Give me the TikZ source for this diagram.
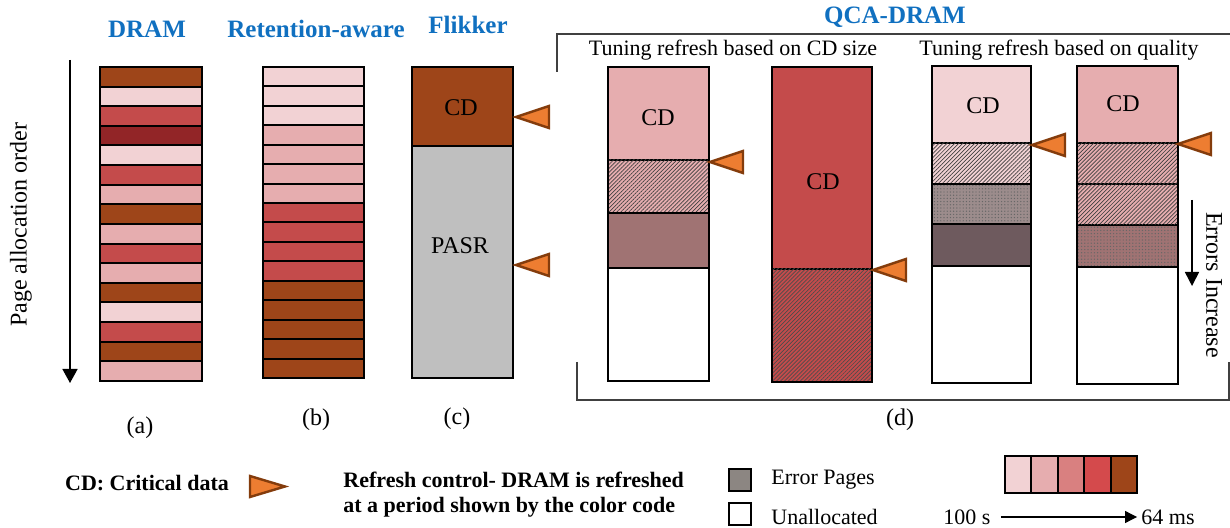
\documentclass[tikz,border=0pt]{standalone}
\usepackage{fontspec}
\setmainfont{Liberation Serif}
\usetikzlibrary{arrows.meta,patterns.meta}
\definecolor{pagebrown}{HTML}{9E4519}
\definecolor{pagelight}{HTML}{F2D2D4}
\definecolor{pagepink}{HTML}{E6ADAF}
\definecolor{pagemid}{HTML}{D98080}
\definecolor{pagered}{HTML}{C44B4B}
\definecolor{pagebright}{HTML}{D44A4C}
\definecolor{pagedark}{HTML}{922527}
\definecolor{pasrgray}{HTML}{BFBFBF}
\definecolor{errmauve}{HTML}{A07373}
\definecolor{errdark}{HTML}{6E5A5E}
\definecolor{errgray}{HTML}{9C8C8C}
\definecolor{errbox}{HTML}{8C8682}
\definecolor{headblue}{HTML}{1070C0}
\definecolor{markfill}{HTML}{ED7D31}
\definecolor{markdraw}{HTML}{843C0C}
\tikzset{
  stripe/.style={draw=black, line width=1pt},
  pagebox/.style={draw=black, line width=1.2pt},
  hatchfill/.style={postaction={pattern={Lines[angle=45,distance=1.4pt,line width=0.35pt]}, pattern color=#1}},
  hatchfill/.default=black!75,
  dotfill/.style={postaction={pattern={Dots[distance=1.6pt,radius=0.35pt]}, pattern color=#1}},
  dotfill/.default=black!60,
  refresh/.style={fill=markfill, draw=markdraw, line width=1.2pt, line join=miter},
  headline/.style={text=headblue, font=\fontsize{12.5}{15}\selectfont\bfseries},
  caption/.style={font=\fontsize{11}{13}\selectfont},
  cdtext/.style={font=\fontsize{12}{14}\selectfont},
  sublabel/.style={font=\fontsize{12}{14}\selectfont},
  legendtext/.style={font=\fontsize{11}{12.5}\selectfont, anchor=west, inner sep=0pt},
  boldtext/.style={font=\fontsize{11}{12.5}\selectfont\bfseries},
  frameline/.style={draw=black!75, line width=0.6pt},
}

\begin{document}
\begin{tikzpicture}[x=0.5pt, y=-0.5pt]
  \useasboundingbox (0, 0) rectangle (1230, 528);

  % headings
  \node[headline] (hdram) at (147, 29) {DRAM};
  \node[headline] (hret) at (316, 29) {Retention-aware};
  \node[headline] (hflik) at (468, 25) {Flikker};
  \node[headline] (hqca) at (895, 17) {QCA-DRAM};

  % allocation order
  \coordinate (ordertop) at (70, 60);
  \coordinate (orderbot) at (70, 383);
  \draw[line width=0.8pt, -{Triangle[length=7pt, width=7.5pt]}] (ordertop) -- (orderbot);
  \node[sublabel, rotate=90] (order) at (21, 225) {Page allocation order};

  % (a) conventional DRAM
  \foreach \c [count=\i from 0] in {pagebrown, pagelight, pagered, pagedark, pagelight, pagered, pagepink, pagebrown,
                                    pagepink, pagered, pagepink, pagebrown, pagelight, pagered, pagebrown, pagepink}
    \draw[stripe, fill=\c] (100, 67+19.625*\i) rectangle ++(102, 19.625);
  \draw[pagebox] (100, 67) rectangle (202, 381);

  % (b) retention-aware
  \foreach \c [count=\i from 0] in {pagelight, pagelight, pagelight, pagepink, pagepink, pagepink, pagepink, pagered,
                                    pagered, pagered, pagered, pagebrown, pagebrown, pagebrown, pagebrown, pagebrown}
    \draw[stripe, fill=\c] (263, 67+19.4375*\i) rectangle ++(101, 19.4375);
  \draw[pagebox] (263, 67) rectangle (364, 378);

  % (c) Flikker
  \draw[stripe, fill=pagebrown] (412, 67) rectangle (513, 146);
  \draw[stripe, fill=pasrgray] (412, 146) rectangle (513, 378);
  \draw[pagebox] (412, 67) rectangle (513, 378);
  \node[cdtext] (cdc) at (461, 108) {CD};
  \node[cdtext] (pasr) at (460, 246) {PASR};

  % (d) QCA-DRAM frame
  \draw[frameline] (557, 72) -- (557, 34) -- (1230, 34);
  \draw[frameline] (577, 362) -- (577, 400) -- (1229, 400) -- (1229, 362);
  \node[caption] (tunesize) at (733, 50) {Tuning refresh based on CD size};
  \node[caption] (tunequal) at (1059, 50) {Tuning refresh based on quality};

  % CD size, small
  \draw[stripe, fill=pagepink] (608, 67) rectangle (709, 160);
  \draw[stripe, fill=pagepink, hatchfill] (608, 160) rectangle (709, 213);
  \draw[stripe, fill=errmauve] (608, 213) rectangle (709, 268);
  \draw[stripe, fill=white] (608, 268) rectangle (709, 381);
  \draw[pagebox] (608, 67) rectangle (709, 381);
  \node[cdtext] (cdd1) at (658, 118) {CD};

  % CD size, large
  \draw[stripe, fill=pagered] (772, 67) rectangle (872, 269);
  \draw[stripe, fill=pagered, hatchfill=black!70] (772, 269) rectangle (872, 382);
  \draw[pagebox] (772, 67) rectangle (872, 382);
  \node[cdtext] (cdd2) at (823, 182) {CD};

  % quality, first
  \draw[stripe, fill=pagelight] (932, 66) rectangle (1031, 143);
  \draw[stripe, fill=pagelight, hatchfill] (932, 143) rectangle (1031, 184);
  \draw[stripe, fill=errgray, dotfill] (932, 184) rectangle (1031, 224);
  \draw[stripe, fill=errdark] (932, 224) rectangle (1031, 266);
  \draw[stripe, fill=white] (932, 266) rectangle (1031, 383);
  \draw[pagebox] (932, 66) rectangle (1031, 383);
  \node[cdtext] (cdd3) at (983, 106) {CD};

  % quality, second
  \draw[stripe, fill=pagepink] (1077, 66) rectangle (1178, 143);
  \draw[stripe, fill=pagepink, hatchfill] (1077, 143) rectangle (1178, 184);
  \draw[stripe, fill=pagepink, hatchfill] (1077, 184) rectangle (1178, 225);
  \draw[stripe, fill=errmauve, dotfill] (1077, 225) rectangle (1178, 267);
  \draw[stripe, fill=white] (1077, 267) rectangle (1178, 384);
  \draw[pagebox] (1077, 66) rectangle (1178, 384);
  \node[cdtext] (cdd4) at (1123, 104) {CD};

  % refresh control marks
  \foreach \tip in {(516, 117), (516, 265), (710, 162), (873, 270), (1032, 145), (1178, 144)}
    \draw[refresh] \tip -- ++(33, -11) -- ++(0, 22) -- cycle;

  % errors increase
  \coordinate (errtop) at (1192, 200);
  \coordinate (errbot) at (1192, 286);
  \draw[line width=0.8pt, -{Triangle[length=7pt, width=7pt]}] (errtop) -- (errbot);
  \node[sublabel, rotate=-90] (errinc) at (1214, 285) {Errors Increase};

  % sub-figure labels
  \node[sublabel] (la) at (140, 428) {(a)};
  \node[sublabel] (lb) at (316, 420) {(b)};
  \node[sublabel] (lc) at (457, 419) {(c)};
  \node[sublabel] (ld) at (900, 420) {(d)};

  % legend
  \node[boldtext] (cdkey) at (147, 483) {CD: Critical data};
  \draw[refresh] (250, 476) -- (285, 486.5) -- (250, 497) -- cycle;
  \node[boldtext, anchor=west, inner sep=0pt, align=left] (refkey) at (343, 495)
    {Refresh control- DRAM is refreshed\\at a period shown by the color code};
  \node[draw=black, line width=1.2pt, fill=errbox, minimum size=11pt, inner sep=0pt] (errkey) at (740, 480) {};
  \node[legendtext] (errlabel) at (771, 480) {Error Pages};
  \node[draw=black, line width=1.2pt, fill=white, minimum size=11pt, inner sep=0pt] (freekey) at (740, 514) {};
  \node[legendtext] (freelabel) at (771, 517) {Unallocated};

  % colour scale
  \foreach \c [count=\i from 0] in {pagelight, pagepink, pagemid, pagebright, pagebrown}
    \draw[stripe, fill=\c] (1005+26.4*\i, 456) rectangle ++(26.4, 37);
  \draw[pagebox] (1005, 456) rectangle (1137, 493);
  \node[caption, inner sep=2pt] (slow) at (967, 517) {100 s};
  \node[caption, inner sep=2pt] (fast) at (1168, 517) {64 ms};
  \draw[line width=0.6pt, shorten <=3pt, -{Triangle[length=6pt, width=6pt]}] (slow.east) -- (fast.west);

\end{tikzpicture}
\end{document}
